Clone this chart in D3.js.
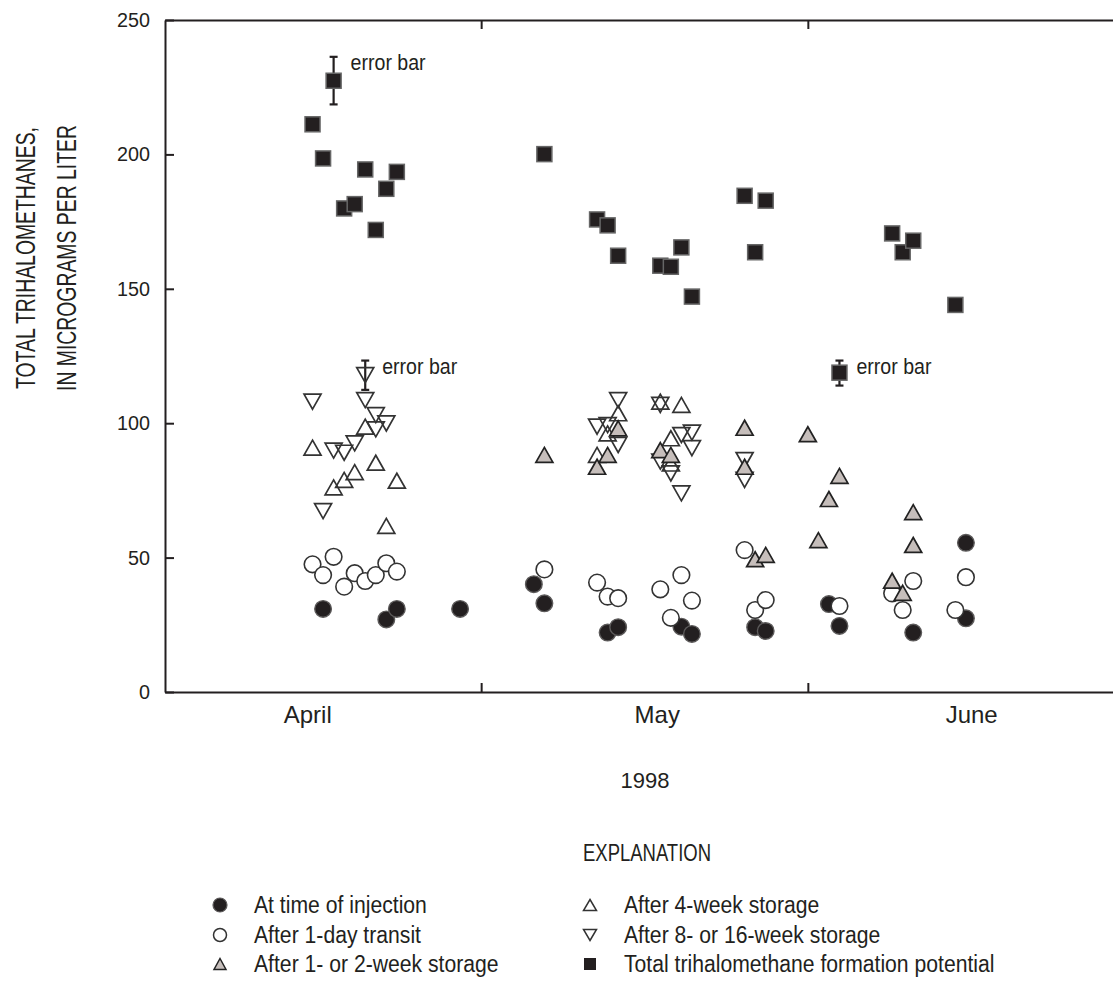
<!DOCTYPE html>
<html><head><meta charset="utf-8">
<script src="https://cdn.jsdelivr.net/npm/d3@7"></script>
<style>body{margin:0;background:#fff}</style>
</head><body>
<svg id="chart" width="1113" height="996"></svg>
<script>
// ---------- data ----------
const yTicks = [0, 50, 100, 150, 200, 250];
const monthLabels = ["April", "May", "June"];
const monthLabelDates = ["1998-04-14T12:00", "1998-05-17T16:00", "1998-06-16T12:00"];
const monthBoundaries = ["1998-05-01", "1998-06-01"];
const yearLabel = "1998";
const yTitle = ["TOTAL TRIHALOMETHANES,", "IN MICROGRAMS PER LITER"];

const injectionDates = ["04-16","04-22","04-23","04-29","05-06","05-07","05-13","05-14","05-20","05-21","05-27","05-28","06-03","06-04","06-11","06-16","06-16"];
const injectionValues = [30.9,27.0,30.9,30.9,40.1,33.0,22.1,24.1,24.3,21.6,24.1,22.7,32.7,24.6,22.1,55.5,27.4];

const transitDates = ["04-15","04-16","04-17","04-18","04-19","04-20","04-21","04-22","04-23","05-07","05-12","05-13","05-14","05-18","05-19","05-20","05-21","05-26","05-27","05-28","06-04","06-09","06-10","06-11","06-15","06-16"];
const transitValues = [47.5,43.5,50.3,39.2,44.2,41.3,43.5,47.9,44.8,45.6,40.7,35.5,34.9,38.2,27.6,43.5,34.0,52.8,30.5,34.2,32.0,36.7,30.5,41.3,30.5,42.7];

const week12Dates = ["05-07","05-12","05-13","05-14","05-18","05-19","05-26","05-26","05-27","05-28","06-01","06-02","06-03","06-04","06-09","06-10","06-11","06-11"];
const week12Values = [88.2,83.8,88.2,98.1,90.0,88.2,98.3,83.8,49.4,51.0,95.9,56.5,71.8,80.4,41.4,36.9,66.9,54.7];

const week4Dates = ["04-15","04-17","04-18","04-19","04-20","04-21","04-22","04-23","05-12","05-13","05-14","05-18","05-19","05-19","05-20"];
const week4Values = [90.9,76.1,78.9,81.8,98.7,85.3,61.8,78.6,88.2,96.2,103.7,108.0,94.4,85.0,106.8];

const week816Dates = ["04-15","04-16","04-17","04-18","04-19","04-20","04-20","04-21","04-21","04-22","05-12","05-13","05-14","05-14","05-18","05-18","05-19","05-20","05-20","05-21","05-21","05-26","05-26"];
const week816Values = [108.0,67.3,89.8,89.0,92.5,108.6,117.9,103.0,97.7,99.9,98.7,99.3,108.6,91.9,106.8,85.7,81.3,95.6,73.9,96.5,90.7,86.3,78.9];

const thmfpDates = ["04-15","04-16","04-17","04-18","04-19","04-20","04-21","04-22","04-23","05-07","05-12","05-13","05-14","05-18","05-19","05-20","05-21","05-26","05-27","05-28","06-04","06-09","06-10","06-11","06-15"];
const thmfpValues = [211.2,198.5,227.4,179.9,181.5,194.4,171.9,187.2,193.5,200.1,175.8,173.6,162.3,158.6,158.2,165.4,147.1,184.6,163.6,182.8,118.8,170.6,163.6,167.9,144.0];

const errorDates = ["04-17","04-20","06-04"];
const errorLow = [218.6,112.4,114.0];
const errorHigh = [236.3,123.3,123.3];
const errorLabel = "error bar";

const legendLabels = ["At time of injection","After 1-day transit","After 1- or 2-week storage","After 4-week storage","After 8- or 16-week storage","Total trihalomethane formation potential"];
const legendTitle = "EXPLANATION";

// ---------- setup ----------
const parse = s => d3.utcParse("%Y-%m-%d")("1998-" + s);
const parseFull = d3.utcParse("%Y-%m-%dT%H:%M");
const parseDay = d3.utcParse("%Y-%m-%d");
const zip = (ds, vs) => ds.map((d, i) => ({date: parse(d), value: vs[i]}));

const svg = d3.select("#chart");
const FONT = "'Liberation Sans', Arial, sans-serif";
const INK = "#231f20";

const x = d3.scaleUtc().domain([parseDay("1998-04-01"), parseDay("1998-07-01")]).range([165, 1124]);
const y = d3.scaleLinear().domain([0, 250]).range([692, 20]);

// frame / axes
const gl = svg.append("g").attr("transform", "translate(165,0)")
  .call(d3.axisLeft(y).tickValues(yTicks).tickSize(-9).tickSizeOuter(0).tickPadding(15));
const gb = svg.append("g").attr("transform", "translate(0,692)")
  .call(d3.axisBottom(x).tickValues(monthBoundaries.map(parseDay)).tickSize(-9).tickSizeOuter(0).tickFormat(""));
const gt = svg.append("g").attr("transform", "translate(0,20)")
  .call(d3.axisTop(x).tickValues(monthBoundaries.map(parseDay)).tickSize(-9).tickSizeOuter(0).tickFormat(""));
[gl, gb, gt].forEach(g => {
  g.selectAll("path.domain").attr("stroke", INK).attr("stroke-width", 2);
  g.selectAll(".tick line").attr("stroke", INK).attr("stroke-width", 2);
});
gl.selectAll(".tick text").attr("font-family", FONT).attr("font-size", 20).attr("fill", INK)
  .attr("textLength", 33).attr("lengthAdjust", "spacingAndGlyphs");
gl.selectAll(".tick text").filter(d => d < 100).attr("textLength", 22);
gl.selectAll(".tick text").filter(d => d === 0).attr("textLength", 11);

// month labels
const gm = svg.append("g").attr("transform", "translate(0,692)")
  .call(d3.axisBottom(x).tickValues(monthLabelDates.map(parseFull)).tickSize(0).tickPadding(14)
    .tickFormat((d, i) => monthLabels[i]));
gm.select("path.domain").remove();
gm.selectAll(".tick text").attr("font-family", FONT).attr("font-size", 24).attr("fill", INK);

svg.append("text").attr("x", 645).attr("y", 788).attr("text-anchor", "middle")
  .attr("font-family", FONT).attr("font-size", 22).attr("fill", INK).text(yearLabel);

// y title
const tt = svg.append("g").attr("font-family", FONT).attr("font-size", 28).attr("fill", INK);
tt.append("text").attr("transform", "translate(35,258) rotate(-90)").attr("text-anchor", "middle")
  .attr("textLength", 262).attr("lengthAdjust", "spacingAndGlyphs").text(yTitle[0]);
tt.append("text").attr("transform", "translate(76,258) rotate(-90)").attr("text-anchor", "middle")
  .attr("textLength", 266).attr("lengthAdjust", "spacingAndGlyphs").text(yTitle[1]);

// ---------- marker helpers ----------
const triUp = (w, h) => `M0,${-h/2}L${w/2},${h/2}L${-w/2},${h/2}Z`;
const triDown = (w, h) => `M0,${h/2}L${w/2},${-h/2}L${-w/2},${-h/2}Z`;
const GREY = "#c6bebb";

const plot = svg.append("g");

// error bars
const errs = errorDates.map((d, i) => ({date: parse(d), lo: errorLow[i], hi: errorHigh[i]}));
const eb = plot.append("g").attr("stroke", INK).attr("stroke-width", 2.2);
eb.selectAll("line.v").data(errs).join("line").attr("class", "v")
  .attr("x1", d => x(d.date)).attr("x2", d => x(d.date)).attr("y1", d => y(d.lo)).attr("y2", d => y(d.hi));
eb.selectAll("line.t").data(errs).join("line").attr("class", "t")
  .attr("x1", d => x(d.date) - 4).attr("x2", d => x(d.date) + 4).attr("y1", d => y(d.hi)).attr("y2", d => y(d.hi));
eb.selectAll("line.b").data(errs).join("line").attr("class", "b")
  .attr("x1", d => x(d.date) - 4).attr("x2", d => x(d.date) + 4).attr("y1", d => y(d.lo)).attr("y2", d => y(d.lo));

// filled circles
plot.append("g").selectAll("circle").data(zip(injectionDates, injectionValues)).join("circle")
  .attr("cx", d => x(d.date)).attr("cy", d => y(d.value)).attr("r", 8.3)
  .attr("fill", INK).attr("stroke", "#5c5a5a").attr("stroke-width", 1.4);
// open circles
plot.append("g").selectAll("circle").data(zip(transitDates, transitValues)).join("circle")
  .attr("cx", d => x(d.date)).attr("cy", d => y(d.value)).attr("r", 8.3)
  .attr("fill", "#fff").attr("stroke", "#333").attr("stroke-width", 1.6);
// open up triangles
plot.append("g").selectAll("path").data(zip(week4Dates, week4Values)).join("path")
  .attr("transform", d => `translate(${x(d.date)},${y(d.value)})`).attr("d", triUp(17, 15))
  .attr("fill", "none").attr("stroke", "#333").attr("stroke-width", 1.7);
// open down triangles
plot.append("g").selectAll("path").data(zip(week816Dates, week816Values)).join("path")
  .attr("transform", d => `translate(${x(d.date)},${y(d.value)})`).attr("d", triDown(17, 15))
  .attr("fill", "none").attr("stroke", "#333").attr("stroke-width", 1.7);
// grey up triangles
plot.append("g").selectAll("path").data(zip(week12Dates, week12Values)).join("path")
  .attr("transform", d => `translate(${x(d.date)},${y(d.value)})`).attr("d", triUp(17, 15))
  .attr("fill", GREY).attr("stroke", "#222").attr("stroke-width", 1.7);
// squares
plot.append("g").selectAll("rect").data(zip(thmfpDates, thmfpValues)).join("rect")
  .attr("x", d => x(d.date) - 7.5).attr("y", d => y(d.value) - 7.5).attr("width", 15).attr("height", 15)
  .attr("fill", INK).attr("stroke", "#666").attr("stroke-width", 1.5);

// error bar labels
plot.append("g").selectAll("text").data(errs).join("text")
  .attr("x", d => x(d.date) + 17).attr("y", d => y(d.hi) + 13)
  .attr("font-family", FONT).attr("font-size", 22).attr("fill", INK)
  .attr("textLength", 75).attr("lengthAdjust", "spacingAndGlyphs").text(errorLabel);

// ---------- legend ----------
svg.append("text").attr("x", 647).attr("y", 861).attr("text-anchor", "middle")
  .attr("font-family", FONT).attr("font-size", 23).attr("fill", INK)
  .attr("textLength", 128).attr("lengthAdjust", "spacingAndGlyphs").text(legendTitle);

const legX = [220, 590], legY = [905, 935, 964];
const lg = svg.append("g");
legendLabels.forEach((lab, i) => {
  const col = Math.floor(i / 3), row = i % 3;
  const cx = legX[col], cy = legY[row];
  const g = lg.append("g").attr("transform", `translate(${cx},${cy})`);
  if (i === 0) g.append("circle").attr("r", 7).attr("fill", INK).attr("stroke", "#5c5a5a").attr("stroke-width", 1.2);
  if (i === 1) g.append("circle").attr("r", 6.5).attr("fill", "#fff").attr("stroke", "#333").attr("stroke-width", 1.5);
  if (i === 2) g.append("path").attr("d", triUp(12, 11)).attr("fill", GREY).attr("stroke", "#222").attr("stroke-width", 1.5);
  if (i === 3) g.append("path").attr("d", triUp(13, 11)).attr("fill", "none").attr("stroke", "#333").attr("stroke-width", 1.5);
  if (i === 4) g.append("path").attr("d", triDown(13, 11)).attr("fill", "none").attr("stroke", "#333").attr("stroke-width", 1.5);
  if (i === 5) g.append("rect").attr("x", -6).attr("y", -6).attr("width", 12).attr("height", 12).attr("fill", INK);
  const t = g.append("text").attr("x", col === 0 ? 34 : 34).attr("y", 8)
    .attr("font-family", FONT).attr("font-size", 23).attr("fill", INK).text(lab);
  const len = t.node().getComputedTextLength();
  t.attr("textLength", len * 0.92).attr("lengthAdjust", "spacingAndGlyphs");
});
</script>
</body></html>
